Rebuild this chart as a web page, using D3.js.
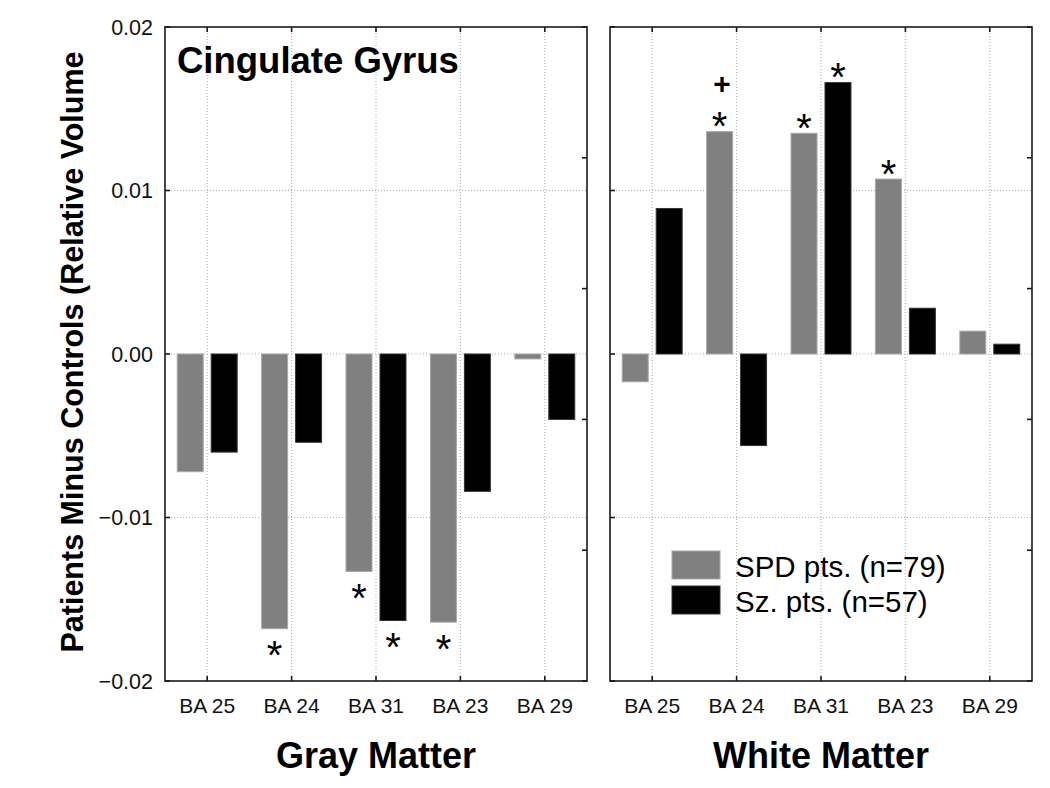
<!DOCTYPE html>
<html>
<head>
<meta charset="utf-8">
<script src="https://cdn.jsdelivr.net/npm/d3@7"></script>
<style>
  html, body { margin: 0; padding: 0; background: #fff; }
  svg { display: block; font-family: Arial, "Liberation Sans", sans-serif; }
</style>
</head>
<body>
<svg id="chart" width="1050" height="788"></svg>
<script>
// ---- data ----
const categories = ["BA 25", "BA 24", "BA 31", "BA 23", "BA 29"];
const seriesNames = ["SPD pts. (n=79)", "Sz. pts. (n=57)"];
const seriesColors = ["#808080", "#000000"];
const grayMatterSPD = [-0.0072, -0.0168, -0.0133, -0.0164, -0.0003];
const grayMatterSz  = [-0.0060, -0.0054, -0.0163, -0.0084, -0.0040];
const whiteMatterSPD = [-0.0017, 0.0136, 0.0135, 0.0107, 0.0014];
const whiteMatterSz  = [0.0089, -0.0056, 0.0166, 0.0028, 0.0006];
// significance markers: [categoryIndex, seriesIndex]
const grayMatterStars = [[1, 0], [2, 0], [2, 1], [3, 0]];
const whiteMatterStars = [[1, 0], [2, 0], [2, 1], [3, 0]];
const whiteMatterPlus = [[1, 0]];
const yTicks = [0.02, 0.01, 0.00, -0.01, -0.02];
const rightTicks = [0.02, 0.012, 0.004, -0.004, -0.012, -0.02];
const panelTitles = ["Gray Matter", "White Matter"];
const chartTitle = "Cingulate Gyrus";
const yTitle = "Patients Minus Controls (Relative Volume";

// ---- layout ----
const svg = d3.select("#chart");
const yTop = 27, yBottom = 681;
const panels = [
  { x0: 165, x1: 587, spd: grayMatterSPD, sz: grayMatterSz, stars: grayMatterStars, plus: [], title: panelTitles[0] },
  { x0: 610, x1: 1032, spd: whiteMatterSPD, sz: whiteMatterSz, stars: whiteMatterStars, plus: whiteMatterPlus, title: panelTitles[1] }
];
const y = d3.scaleLinear().domain([-0.02, 0.02]).range([yBottom, yTop]);
const font = "Arial, 'Liberation Sans', sans-serif";
const starSize = 40;

panels.forEach((p, pi) => {
  const x = d3.scaleBand().domain(categories).range([p.x0, p.x1]).padding(0);
  const xs = d3.scaleBand().domain([0, 1]).range([0, x.bandwidth()]).paddingInner(0.235).paddingOuter(0.36);
  const g = svg.append("g");

  // gridlines
  g.selectAll(".hg").data(yTicks.filter(v => Math.abs(v) < 0.015)).join("line")
    .attr("x1", p.x0).attr("x2", p.x1)
    .attr("y1", d => y(d)).attr("y2", d => y(d))
    .attr("stroke", "#b0b0b0").attr("stroke-width", 1).attr("stroke-dasharray", "1,2");
  g.selectAll(".vg").data(categories).join("line")
    .attr("x1", d => x(d) + x.bandwidth() / 2).attr("x2", d => x(d) + x.bandwidth() / 2)
    .attr("y1", yTop).attr("y2", yBottom)
    .attr("stroke", "#b0b0b0").attr("stroke-width", 1).attr("stroke-dasharray", "1,2");

  // bars
  const rows = [];
  categories.forEach((c, i) => {
    rows.push({ c, s: 0, v: p.spd[i] });
    rows.push({ c, s: 1, v: p.sz[i] });
  });
  g.selectAll(".bar").data(rows).join("rect")
    .attr("x", d => x(d.c) + xs(d.s))
    .attr("width", xs.bandwidth())
    .attr("y", d => y(Math.max(0, d.v)))
    .attr("height", d => Math.abs(y(d.v) - y(0)))
    .attr("fill", d => seriesColors[d.s])
    .attr("stroke", d => d.s === 0 ? "#a8a8a8" : "#333")
    .attr("stroke-width", 1);

  // stars
  g.selectAll(".star").data(p.stars).join("text")
    .attr("x", d => x(categories[d[0]]) + xs(d[1]) + xs.bandwidth() / 2)
    .attr("y", d => {
      const v = d[1] === 0 ? p.spd[d[0]] : p.sz[d[0]];
      const cy = v >= 0 ? y(v) - 14 : y(v) + 18;
      return cy + starSize * 0.57;
    })
    .attr("text-anchor", "middle")
    .attr("font-size", starSize).attr("font-family", font).attr("fill", "#000")
    .text("*");
  g.selectAll(".plus").data(p.plus).join("text")
    .attr("x", d => x(categories[d[0]]) + xs(d[1]) + xs.bandwidth() / 2 + 2.5)
    .attr("y", d => {
      const v = d[1] === 0 ? p.spd[d[0]] : p.sz[d[0]];
      return y(v) - 48 + 10;
    })
    .attr("text-anchor", "middle")
    .attr("font-size", 30).attr("font-weight", "bold").attr("font-family", font).attr("fill", "#000")
    .text("+");

  // frame
  g.append("rect").attr("x", p.x0).attr("y", yTop).attr("width", p.x1 - p.x0).attr("height", yBottom - yTop)
    .attr("fill", "none").attr("stroke", "#1a1a1a").attr("stroke-width", 1.6);

  // ticks: left edge (major), right edge (secondary), top & bottom (category)
  g.selectAll(".lt").data(yTicks).join("line")
    .attr("x1", p.x0).attr("x2", p.x0 + 5).attr("y1", d => y(d)).attr("y2", d => y(d))
    .attr("stroke", "#1a1a1a").attr("stroke-width", 1.6);
  g.selectAll(".rt").data(rightTicks).join("line")
    .attr("x1", p.x1 - 5).attr("x2", p.x1).attr("y1", d => y(d)).attr("y2", d => y(d))
    .attr("stroke", "#1a1a1a").attr("stroke-width", 1.6);
  g.selectAll(".tt").data(categories).join("line")
    .attr("x1", d => x(d) + x.bandwidth() / 2).attr("x2", d => x(d) + x.bandwidth() / 2)
    .attr("y1", yTop).attr("y2", yTop + 5)
    .attr("stroke", "#1a1a1a").attr("stroke-width", 1.6);
  g.selectAll(".bt").data(categories).join("line")
    .attr("x1", d => x(d) + x.bandwidth() / 2).attr("x2", d => x(d) + x.bandwidth() / 2)
    .attr("y1", yBottom - 5).attr("y2", yBottom)
    .attr("stroke", "#1a1a1a").attr("stroke-width", 1.6);

  // category labels
  g.selectAll(".cl").data(categories).join("text")
    .attr("x", d => x(d) + x.bandwidth() / 2).attr("y", 713)
    .attr("text-anchor", "middle").attr("font-size", 21).attr("font-family", font).attr("fill", "#111")
    .text(d => d);

  // panel x title
  g.append("text").attr("x", (p.x0 + p.x1) / 2).attr("y", 768)
    .attr("text-anchor", "middle").attr("font-size", 36).attr("font-weight", "bold")
    .attr("font-family", font).attr("fill", "#000").text(p.title);
});

// y axis tick labels
svg.append("g").selectAll("text").data(yTicks).join("text")
  .attr("x", 153).attr("y", d => y(d) + 7.5)
  .attr("text-anchor", "end").attr("font-size", 21.5).attr("font-family", font).attr("fill", "#111")
  .text(d => d3.format(".2f")(d));

// y title
svg.append("text")
  .attr("transform", "translate(83,352) rotate(-90)")
  .attr("text-anchor", "middle").attr("font-size", 30.5).attr("font-weight", "bold")
  .attr("font-family", font).attr("fill", "#000").text(yTitle);

// chart title
svg.append("text").attr("x", 177).attr("y", 73)
  .attr("font-size", 36.5).attr("font-weight", "bold").attr("font-family", font).attr("fill", "#000")
  .text(chartTitle);

// legend
const leg = svg.append("g");
seriesNames.forEach((n, i) => {
  leg.append("rect").attr("x", 672).attr("y", 551 + i * 35).attr("width", 48).attr("height", 28)
    .attr("fill", seriesColors[i]).attr("stroke", i === 0 ? "#a8a8a8" : "#333");
  leg.append("text").attr("x", 735).attr("y", 577 + i * 35)
    .attr("font-size", 29.5).attr("font-family", font).attr("fill", "#000").text(n);
});
</script>
</body>
</html>
